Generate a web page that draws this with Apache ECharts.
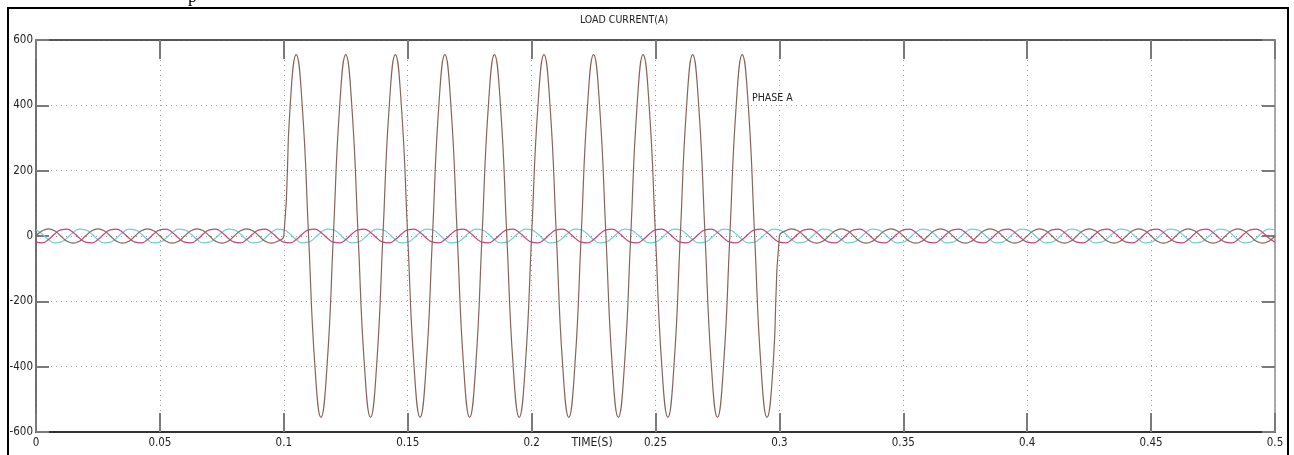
<!DOCTYPE html>
<html>
<head>
<meta charset="utf-8">
<script src="https://cdn.jsdelivr.net/npm/echarts@6/dist/echarts.min.js"></script>
<style>
  html, body { margin: 0; padding: 0; background: #fff; }
  #chart { width: 1294px; height: 455px; }
</style>
</head>
<body>
<div id="chart"></div>
<script>
// Load current of the three phases, sampled every 2.5 ms (8 samples per 50 Hz cycle).
// A fault on phase A between 0.1 s and 0.3 s raises its current to about 555 A peak.
const SAMPLE_STEP = 0.0025;

const phaseA = [
  0, 16, 22, 16, 0, -16, -22, -16,
  0, 16, 22, 16, 0, -16, -22, -16,
  0, 16, 22, 16, 0, -16, -22, -16,
  0, 16, 22, 16, 0, -16, -22, -16,
  0, 16, 22, 16, 0, -16, -22, -16,
  0, 392, 555, 392, 0, -392, -555, -392,
  0, 392, 555, 392, 0, -392, -555, -392,
  0, 392, 555, 392, 0, -392, -555, -392,
  0, 392, 555, 392, 0, -392, -555, -392,
  0, 392, 555, 392, 0, -392, -555, -392,
  0, 392, 555, 392, 0, -392, -555, -392,
  0, 392, 555, 392, 0, -392, -555, -392,
  0, 392, 555, 392, 0, -392, -555, -392,
  0, 392, 555, 392, 0, -392, -555, -392,
  0, 392, 555, 392, 0, -392, -555, -392,
  0, 16, 22, 16, 0, -16, -22, -16,
  0, 16, 22, 16, 0, -16, -22, -16,
  0, 16, 22, 16, 0, -16, -22, -16,
  0, 16, 22, 16, 0, -16, -22, -16,
  0, 16, 22, 16, 0, -16, -22, -16,
  0, 16, 22, 16, 0, -16, -22, -16,
  0, 16, 22, 16, 0, -16, -22, -16,
  0, 16, 22, 16, 0, -16, -22, -16,
  0, 16, 22, 16, 0, -16, -22, -16,
  0, 16, 22, 16, 0, -16, -22, -16,
  0
];

const phaseB = [
  -19, -21, -11, 6, 19, 21, 11, -6,
  -19, -21, -11, 6, 19, 21, 11, -6,
  -19, -21, -11, 6, 19, 21, 11, -6,
  -19, -21, -11, 6, 19, 21, 11, -6,
  -19, -21, -11, 6, 19, 21, 11, -6,
  -19, -21, -11, 6, 19, 21, 11, -6,
  -19, -21, -11, 6, 19, 21, 11, -6,
  -19, -21, -11, 6, 19, 21, 11, -6,
  -19, -21, -11, 6, 19, 21, 11, -6,
  -19, -21, -11, 6, 19, 21, 11, -6,
  -19, -21, -11, 6, 19, 21, 11, -6,
  -19, -21, -11, 6, 19, 21, 11, -6,
  -19, -21, -11, 6, 19, 21, 11, -6,
  -19, -21, -11, 6, 19, 21, 11, -6,
  -19, -21, -11, 6, 19, 21, 11, -6,
  -19, -21, -11, 6, 19, 21, 11, -6,
  -19, -21, -11, 6, 19, 21, 11, -6,
  -19, -21, -11, 6, 19, 21, 11, -6,
  -19, -21, -11, 6, 19, 21, 11, -6,
  -19, -21, -11, 6, 19, 21, 11, -6,
  -19, -21, -11, 6, 19, 21, 11, -6,
  -19, -21, -11, 6, 19, 21, 11, -6,
  -19, -21, -11, 6, 19, 21, 11, -6,
  -19, -21, -11, 6, 19, 21, 11, -6,
  -19, -21, -11, 6, 19, 21, 11, -6,
  -19
];

const phaseC = [
  19, 6, -11, -21, -19, -6, 11, 21,
  19, 6, -11, -21, -19, -6, 11, 21,
  19, 6, -11, -21, -19, -6, 11, 21,
  19, 6, -11, -21, -19, -6, 11, 21,
  19, 6, -11, -21, -19, -6, 11, 21,
  19, 6, -11, -21, -19, -6, 11, 21,
  19, 6, -11, -21, -19, -6, 11, 21,
  19, 6, -11, -21, -19, -6, 11, 21,
  19, 6, -11, -21, -19, -6, 11, 21,
  19, 6, -11, -21, -19, -6, 11, 21,
  19, 6, -11, -21, -19, -6, 11, 21,
  19, 6, -11, -21, -19, -6, 11, 21,
  19, 6, -11, -21, -19, -6, 11, 21,
  19, 6, -11, -21, -19, -6, 11, 21,
  19, 6, -11, -21, -19, -6, 11, 21,
  19, 6, -11, -21, -19, -6, 11, 21,
  19, 6, -11, -21, -19, -6, 11, 21,
  19, 6, -11, -21, -19, -6, 11, 21,
  19, 6, -11, -21, -19, -6, 11, 21,
  19, 6, -11, -21, -19, -6, 11, 21,
  19, 6, -11, -21, -19, -6, 11, 21,
  19, 6, -11, -21, -19, -6, 11, 21,
  19, 6, -11, -21, -19, -6, 11, 21,
  19, 6, -11, -21, -19, -6, 11, 21,
  19, 6, -11, -21, -19, -6, 11, 21,
  19
];

const timeTicks = [0, 0.05, 0.1, 0.15, 0.2, 0.25, 0.3, 0.35, 0.4, 0.45, 0.5];
const currentTicks = [-600, -400, -200, 0, 200, 400, 600];

const chartTitle = 'LOAD CURRENT(A)';
const timeAxisTitle = 'TIME(S)';
const phaseALabel = 'PHASE A';

const FONT = '"Liberation Sans Narrow", "DejaVu Sans Condensed", "Liberation Sans", sans-serif';

function pairs(values) {
  return values.map((v, i) => [+(i * SAMPLE_STEP).toFixed(4), v]);
}

function fmtTime(v) {
  return String(+(+v).toFixed(2));
}

const chart = echarts.init(document.getElementById('chart'), null, { renderer: 'canvas' });

const tickStyle = { color: '#7a7a7a', width: 2 };

chart.setOption({
  animation: false,
  backgroundColor: '#ffffff',
  grid: {
    left: 36, right: 19, top: 40, bottom: 23,
    show: true, borderColor: '#8a8a8a', borderWidth: 1, backgroundColor: 'transparent'
  },
  xAxis: [
    {
      type: 'value', position: 'bottom',
      min: timeTicks[0], max: timeTicks[timeTicks.length - 1], interval: 0.05,
      axisLine: { show: true, onZero: false, lineStyle: { color: '#333', width: 2 } },
      axisTick: { show: true, inside: true, length: 19, lineStyle: tickStyle },
      axisLabel: {
        show: true, margin: 5, color: '#222', fontSize: 11.5, fontFamily: FONT,
        formatter: fmtTime,
        customValues: timeTicks
      },
      splitLine: { show: true, lineStyle: { color: '#9a9a9a', type: [1, 4], width: 1 } }
    },
    {
      type: 'value', position: 'top',
      min: timeTicks[0], max: timeTicks[timeTicks.length - 1], interval: 0.05,
      axisLine: { show: true, onZero: false, lineStyle: { color: '#333', width: 1.5 } },
      axisTick: { show: true, inside: true, length: 19, lineStyle: tickStyle },
      axisLabel: { show: false },
      splitLine: { show: false }
    }
  ],
  yAxis: [
    {
      type: 'value', position: 'left',
      min: currentTicks[0], max: currentTicks[currentTicks.length - 1], interval: 200,
      axisLine: { show: true, onZero: false, lineStyle: { color: '#555', width: 1.5 } },
      axisTick: { show: true, inside: true, length: 13, lineStyle: tickStyle },
      axisLabel: {
        show: true, margin: 3, color: '#222', fontSize: 11.5, fontFamily: FONT,
        customValues: currentTicks
      },
      splitLine: { show: true, lineStyle: { color: '#9a9a9a', type: [1, 4], width: 1 } }
    },
    {
      type: 'value', position: 'right',
      min: currentTicks[0], max: currentTicks[currentTicks.length - 1], interval: 200,
      axisLine: { show: true, onZero: false, lineStyle: { color: '#a0a0a0', width: 1.5 } },
      axisTick: { show: true, inside: true, length: 13, lineStyle: tickStyle },
      axisLabel: { show: false },
      splitLine: { show: false }
    }
  ],
  series: [
    {
      name: 'Phase C', type: 'line', data: pairs(phaseC), smooth: 0.5, showSymbol: false,
      lineStyle: { color: '#6fd0d0', width: 1.2 }, z: 2
    },
    {
      name: 'Phase B', type: 'line', data: pairs(phaseB), smooth: 0.5, showSymbol: false,
      lineStyle: { color: '#c8407c', width: 1.2 }, z: 3
    },
    {
      name: 'Phase A', type: 'line', data: pairs(phaseA), smooth: 0.5, showSymbol: false,
      lineStyle: { color: '#86645a', width: 1.2 }, z: 4
    }
  ],
  graphic: [
    {
      type: 'rect', silent: true, z: 100,
      shape: { x: 8, y: 8, width: 1280, height: 470 },
      style: { fill: 'none', stroke: '#000', lineWidth: 2 }
    },
    {
      type: 'text', silent: true, x: 188, y: -12,
      style: { text: 'p', fill: '#000', font: '18px "Liberation Serif", serif' }
    },
    {
      type: 'text', silent: true, x: 624, y: 20,
      style: { text: chartTitle, fill: '#222', font: '10.5px ' + FONT, textAlign: 'center', textVerticalAlign: 'middle' }
    },
    {
      type: 'text', silent: true, x: 752, y: 98,
      style: { text: phaseALabel, fill: '#222', font: '10.5px ' + FONT, textAlign: 'left', textVerticalAlign: 'middle' }
    },
    {
      type: 'text', silent: true, x: 592, y: 443,
      style: { text: timeAxisTitle, fill: '#222', font: '12px ' + FONT, textAlign: 'center', textVerticalAlign: 'middle' }
    }
  ]
});
</script>
</body>
</html>
